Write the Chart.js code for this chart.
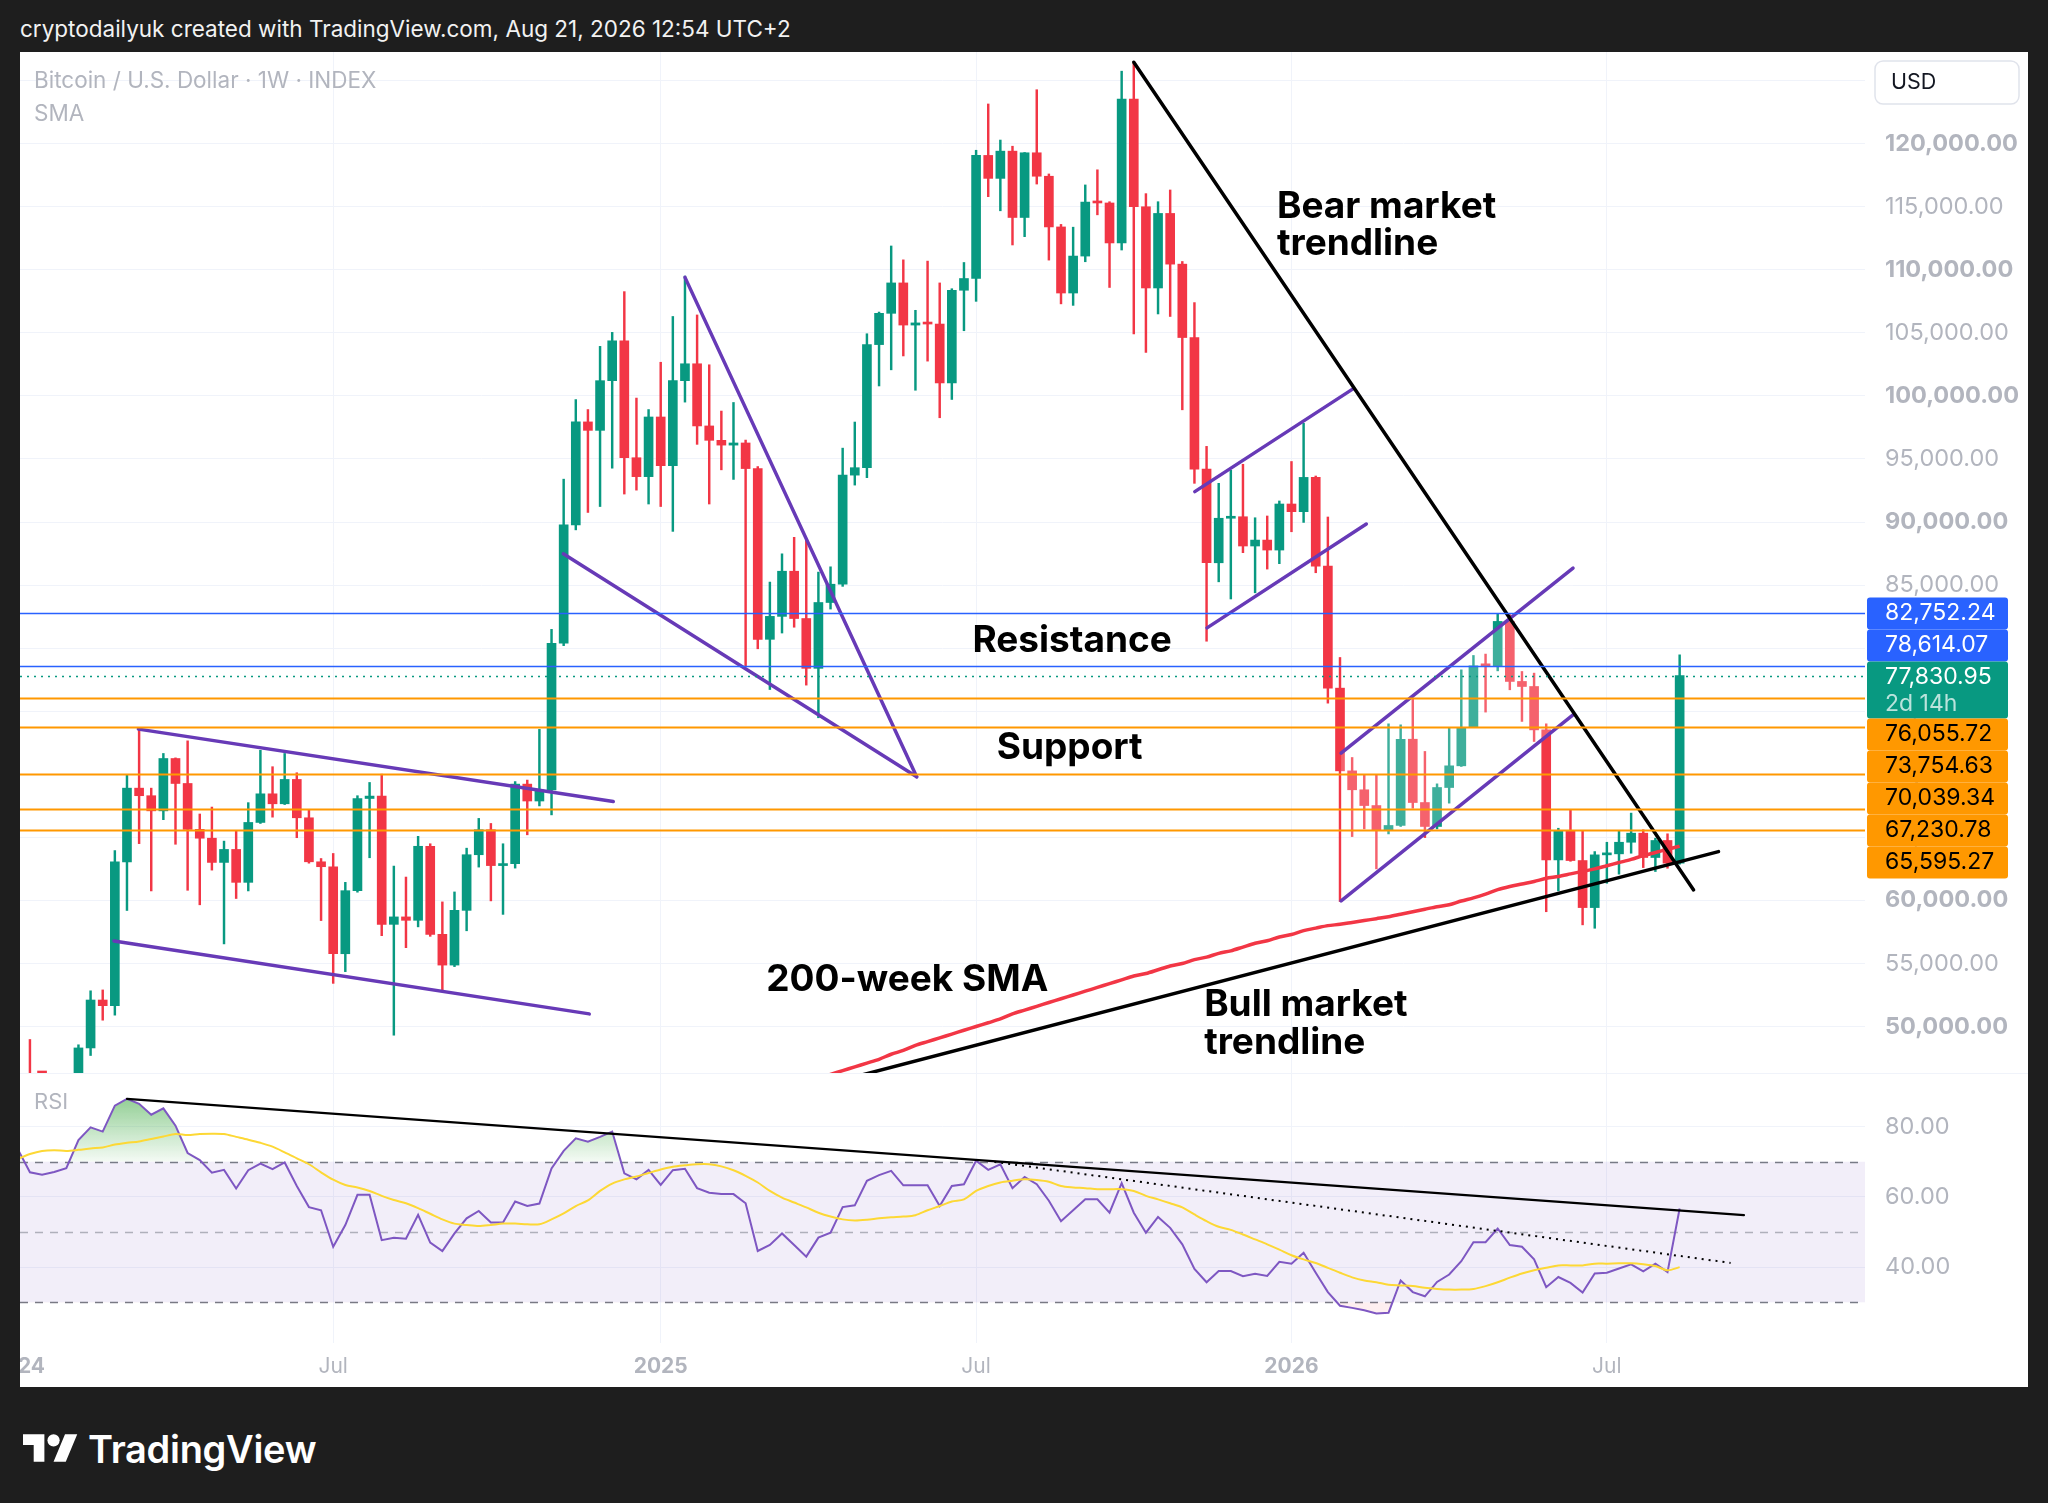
<!DOCTYPE html>
<html>
<head>
<meta charset="utf-8">
<title>BTCUSD 1W</title>
<script src="https://cdn.jsdelivr.net/npm/chart.js@4.4.1/dist/chart.umd.min.js"></script>
<style>
  html, body { margin: 0; padding: 0; width: 2048px; height: 1503px; overflow: hidden; background: #1e1e1e; font-family: Inter, "Noto Sans", sans-serif; }
  #header { position: absolute; left: 20px; top: 12px; height: 34px; line-height: 34px; color: #f2f2f2; font-size: 22.5px; white-space: nowrap; }
  #panel { position: absolute; left: 20px; top: 52px; width: 2008px; height: 1335px; background: #fff; overflow: hidden; }
  #priceWrap { position: absolute; left: 0; top: 0; width: 2008px; height: 1021px; }
  #rsiWrap { position: absolute; left: 0; top: 1021px; width: 2008px; height: 314px; border-top: 1px solid #f0f3fa; box-sizing: border-box; }
  #logo { position: absolute; left: 23px; top: 1426px; display: flex; align-items: center; color: #fff; }
  #logo span { font-size: 38px; font-weight: 600; margin-left: 10px; letter-spacing: -0.3px; }
</style>
</head>
<body>
<div id="header">cryptodailyuk created with TradingView.com, Aug 21, 2026 12:54 UTC+2</div>
<div id="panel">
  <div id="priceWrap"><canvas id="priceCanvas"></canvas></div>
  <div id="rsiWrap"><canvas id="rsiCanvas"></canvas></div>
</div>
<div id="logo">
  <svg width="55" height="43" viewBox="0 0 36 28"><path d="M14 22H7V11H0V4h14v18zM28 22h-8l7.5-18h8L28 22z" fill="#fff"/><circle cx="20" cy="8" r="4" fill="#fff"/></svg>
  <span>TradingView</span>
</div>
<script>
// weekly candles, week 0 = Jan 1 2024
const opens = [42280,43950,41730,41580,42030,42580,48300,52100,51650,63050,68900,68300,67100,71250,69270,65630,64930,63010,64040,61430,
  66180,68450,67660,69590,66550,63060,62670,55770,60770,68080,68270,58100,58690,58420,64290,57310,54870,59210,63620,65600,
  62760,62910,69220,67880,68750,80390,89770,97940,97270,101210,104370,95100,93600,98330,94470,101210,102550,97620,96480,96100,
  96270,94240,80700,82520,86100,82350,78400,83620,85070,93720,94310,104070,106550,108960,105620,105790,105700,101030,108380,109310,
  119070,117250,119410,114150,119280,117420,113400,108160,111090,115370,115300,112130,123540,115000,108560,114470,110450,104630,94200,86770,
  90300,90420,88100,88570,87780,91430,90820,93540,86500,76830,70270,68770,67520,65590,65940,72780,67760,65860,68950,70670,
  73710,78700,78600,82120,77360,76960,73520,63210,65510,63160,59430,63610,63690,64610,65330,63400,64750,62950];
const highs = [45880,48970,43570,42840,43880,48550,52830,52900,63950,69950,73650,68900,71650,71300,72650,66850,67400,64700,65500,67750,
  71900,70600,71650,70120,67160,63320,63720,61430,68300,69350,70010,62720,61850,65080,64490,59880,60670,64140,66500,66100,
  64490,69420,69540,73560,81490,93400,99710,98920,103930,105040,108270,99830,98920,102670,106300,109500,106420,102470,98800,99480,
  96500,94400,85240,87480,88790,88620,86030,86450,95860,97930,104930,106650,111890,110790,106790,110690,108960,108500,110580,119480,
  123150,120290,119800,119300,124280,117600,113600,113380,116730,117930,115400,125750,126460,116040,115400,116330,110660,107400,96000,93070,
  94100,94580,90340,90480,91670,94800,97830,93650,90400,79260,71330,69950,69950,74000,73920,76040,71810,69240,73660,78280,
  79420,79530,82700,82650,78150,78020,74000,65720,67180,65510,63870,64610,65510,66920,65600,64930,65280,79470];
const lows = [40750,41500,40600,38550,41850,42250,47700,50500,50900,59200,64500,60750,66400,64450,60800,59650,62400,56550,60150,60750,
  66100,66600,67600,64970,62950,58400,53420,54350,60650,63380,57200,49310,56250,57900,57150,52780,54750,57590,62640,59960,
  58890,62560,65200,67490,66780,80200,89380,90760,91230,94270,92220,92530,91430,91230,89260,99510,96160,91430,94140,93380,
  78600,79950,76720,81200,81660,77070,74480,83100,84900,92930,93520,100790,102070,103170,100450,102760,98270,99720,105170,107500,
  115800,114680,111970,112630,116800,110770,107300,107180,110640,114360,108600,111570,104920,103450,106500,106300,98900,93070,80550,85260,
  83900,87570,84390,86270,86700,89230,89970,85980,75640,59910,65060,65670,62500,65270,65860,67310,64980,65670,67710,70620,
  73710,74930,78200,76700,74190,72600,59100,60750,63100,58060,57790,61360,62080,63740,62600,62290,62550,62870];
const closes = [43950,41730,41580,42030,42580,48300,52100,51650,63050,68900,68300,67100,71250,69270,65630,64930,63010,64040,61430,66180,
  68450,67660,69590,66550,63060,62670,55770,60770,68080,68270,58100,58690,58420,64290,57310,54870,59210,63620,65600,62760,
  62910,69220,67880,68750,80390,89770,97940,97270,101210,104370,95100,93600,98330,94470,101210,102550,97620,96480,96100,96270,
  94240,80700,82520,86100,82350,78400,83620,85070,93720,94310,104070,106550,108960,105620,105790,105700,101030,108380,109310,119070,
  117250,119410,114150,119280,117420,113400,108160,111090,115370,115300,112130,123540,115000,108560,114470,110450,104630,94200,86770,90300,
  90420,88100,88570,87780,91430,90820,93540,86500,76830,70270,68770,67520,65590,65940,72780,67760,65860,68950,70670,73710,
  78600,78600,82120,77360,76960,73520,63210,65510,63160,59430,63610,63690,64610,65330,63400,64750,62950,77830.95];

// 200-week SMA, first value at week 66
const sma200From = 66;
const sma200 = [45900,46200,46500,46800,47100,47400,47800,48100,48500,48800,49100,49400,49700,50000,50300,50600,51000,51300,51600,51900,
  52200,52500,52800,53100,53400,53700,54000,54200,54500,54800,55000,55300,55500,55800,56000,56300,56600,56800,57100,57300,
  57600,57800,58000,58100,58250,58400,58550,58700,58900,59100,59300,59500,59650,59950,60200,60500,60850,61100,61300,61500,
  61750,61900,62100,62300,62500,62750,63000,63250,63550,63800,64050,64300];

// RSI (14) and its moving average, weekly
const rsi = [73.6,67.0,66.3,67.1,68.2,76.2,79.8,78.6,86.0,87.9,86.5,83.4,85.2,80.3,72.5,70.5,66.9,67.7,62.4,67.6,
  69.5,67.9,69.8,63.1,57.1,56.2,45.8,52.0,60.6,60.6,47.7,48.4,48.1,54.9,47.0,44.6,49.6,53.9,56.0,52.7,
  52.7,58.7,57.4,58.1,68.1,73.1,76.7,75.7,77.1,78.6,66.7,65.0,67.7,63.4,67.6,68.0,62.5,61.2,60.8,60.8,
  58.2,44.6,46.3,49.6,46.3,43.0,48.4,49.8,57.1,57.6,64.6,66.2,67.4,63.3,63.3,63.3,57.4,63.1,63.6,70.3,
  67.7,69.3,62.5,65.7,63.6,58.9,53.1,56.2,59.3,59.3,55.5,63.9,55.5,49.8,54.3,51.2,46.5,39.5,35.7,38.9,
  38.9,37.4,38.1,37.5,41.5,41.0,44.1,38.4,32.9,29.0,28.4,27.7,26.8,27.0,36.2,32.9,31.7,35.8,37.9,41.7,
  47.1,47.1,51.0,46.3,45.8,42.2,34.3,37.2,35.5,32.8,38.2,38.4,39.6,40.8,38.8,41.0,38.6,56.7];
const rsiMa = [70.8,72.2,73.1,73.3,73.1,73.4,73.8,74.1,74.9,75.4,75.8,76.5,77.2,77.9,77.6,77.9,78.0,77.9,77.1,76.3,
  75.4,74.3,72.7,71.0,69.3,67.0,64.9,63.4,62.7,61.7,60.3,59.1,58.2,56.8,55.2,53.6,52.4,52.0,51.7,52.0,
  52.4,52.4,52.2,52.2,53.6,55.3,57.4,59.0,61.7,63.8,65.0,65.8,66.8,67.8,68.6,69.0,69.3,69.3,68.7,67.6,
  66.0,64.1,61.7,59.8,58.4,57.0,55.5,54.4,53.6,53.3,53.5,53.9,54.2,54.4,54.8,56.2,57.4,58.7,59.3,61.7,
  63.1,64.1,64.6,65.0,64.8,64.3,63.1,62.7,62.5,62.2,62.2,62.2,61.7,60.3,59.3,58.2,57.0,55.0,53.1,51.5,
  50.6,49.3,47.9,46.5,45.0,43.4,42.2,41.2,39.8,38.4,37.1,36.2,35.7,35.0,34.8,34.6,34.1,33.8,33.6,33.6,
  33.8,34.6,35.7,37.0,38.2,39.1,39.8,40.5,40.5,40.5,41.0,41.0,41.1,41.1,40.8,40.3,39.1,40.0];

// axis ticks
const xTickWeeks = [0, 26, 53, 79, 105, 131];
const xTickLabels = ['2024', 'Jul', '2025', 'Jul', '2026', 'Jul'];
const priceTicks = [50000,55000,60000,65000,70000,75000,80000,85000,90000,95000,100000,105000,110000,115000,120000,125000];
const rsiTicks = [40, 60, 80];
const rsiLevels = [70, 50, 30];

// horizontal levels shown on the price scale
const levelPrices = [82752.24, 78614.07, 77830.95, 76055.72, 73754.63, 70039.34, 67230.78, 65595.27];
const levelKinds = ['res', 'res', 'last', 'sup', 'sup', 'sup', 'sup', 'sup'];
const countdown = '2d 14h';

// drawings: [week, price]
const bearTrend = [[92, 126460], [138.15, 60830]];
const bullTrend = [[69, 46010], [140.2, 63870]];
const rangeTop = [[9.94, 73580], [49.09, 67840]];
const rangeBottom = [[7.93, 56780], [47.11, 51000]];
const wedgeTop = [[55, 109400], [74.1, 69800]];
const wedgeBottom = [[44.97, 87480], [74.1, 69800]];
const flagTop = [[97.03, 92410], [110.07, 100560]];
const flagBottom = [[98.04, 81610], [111.17, 89840]];
const flag2Top = [[109.09, 71670], [128.21, 86350]];
const flag2Bottom = [[109.09, 59960], [128.21, 74710]];
const rsiTrend = [[9, 87.9], [142.3, 54.8]];
const rsiTrendDotted = [[80.5, 70.0], [141.2, 41.2]];

const notes = [
  { text: 'Bear market', at: [103.8, 115030] },
  { text: 'trendline', at: [103.8, 112030] },
  { text: 'Resistance', at: [78.7, 80570] },
  { text: 'Support', at: [80.7, 72080] },
  { text: '200-week SMA', at: [61.7, 53660] },
  { text: 'Bull market', at: [97.8, 51690] },
  { text: 'trendline', at: [97.8, 48690] }
];

const UP = '#089981';
const DOWN = '#f23645';
const PURPLE = '#673ab7';
const AXIS_TEXT = '#b2b5be';
const GRID = '#f0f3fa';
const xMin = 0.181, xMax = 152.28;
const priceMin = 46313, priceMax = 127271;
const rsiMin = 18.4, rsiMax = 95.0;
const FONT = 'Inter, "Noto Sans", sans-serif';

Chart.defaults.font.family = FONT;
Chart.defaults.animation = false;

const weeks = opens.map((_, i) => i);
const candleColors = weeks.map(i => closes[i] >= opens[i] ? UP : DOWN);
const fmt = v => v.toLocaleString('en-US', { minimumFractionDigits: 2, maximumFractionDigits: 2 });
const toPts = seg => seg.map(([x, y]) => ({ x, y }));

function segment(label, seg, color, extra) {
  return Object.assign({
    type: 'line', label, data: toPts(seg), borderColor: color, borderWidth: 3.5,
    pointRadius: 0, fill: false, tension: 0, order: 1, borderCapStyle: 'round'
  }, extra || {});
}

function xAxis(showLabels) {
  return {
    type: 'linear', min: xMin, max: xMax, offset: false,
    grid: { color: GRID, drawTicks: false, offset: false },
    border: { display: false },
    afterBuildTicks: s => { s.ticks = xTickWeeks.map(v => ({ value: v })); },
    afterFit: s => { s.height = showLabels ? 44 : 0; s.paddingLeft = 0; s.paddingRight = 0; },
    ticks: {
      display: showLabels, autoSkip: false, maxRotation: 0, padding: 11, color: AXIS_TEXT,
      font: ctx => ({ size: 21, weight: ctx.tick && xTickLabels[xTickWeeks.indexOf(ctx.tick.value)] !== 'Jul' ? '700' : '400' }),
      callback: v => xTickLabels[xTickWeeks.indexOf(v)]
    }
  };
}

function yAxis(min, max, ticks, boldStep) {
  return {
    position: 'right', min, max,
    grid: { color: GRID, drawTicks: false },
    border: { display: false },
    afterBuildTicks: s => { s.ticks = ticks.map(v => ({ value: v })); },
    afterFit: s => { s.width = 163; s.paddingTop = 0; s.paddingBottom = 0; },
    ticks: {
      padding: 20, color: AXIS_TEXT,
      font: ctx => ({ size: 23.5, weight: boldStep && ctx.tick && ctx.tick.value % boldStep === 0 ? '700' : '400' }),
      callback: v => fmt(v)
    }
  };
}

const levelColor = { res: '#2962ff', sup: '#ff9800', last: UP };

const priceOverlay = {
  id: 'priceOverlay',
  afterDatasetDraw(chart, args) {
    if (args.meta.label !== 'Bodies') return;
    const { ctx, chartArea: a, scales: { x, y } } = chart;
    ctx.save();
    ctx.beginPath(); ctx.rect(a.left, a.top, a.width, a.height); ctx.clip();
    ctx.beginPath();
    ctx.moveTo(x.getPixelForValue(flag2Top[0][0]), y.getPixelForValue(flag2Top[0][1]));
    ctx.lineTo(x.getPixelForValue(flag2Top[1][0]), y.getPixelForValue(flag2Top[1][1]));
    ctx.lineTo(x.getPixelForValue(flag2Bottom[1][0]), y.getPixelForValue(flag2Bottom[1][1]));
    ctx.lineTo(x.getPixelForValue(flag2Bottom[0][0]), y.getPixelForValue(flag2Bottom[0][1]));
    ctx.closePath();
    ctx.fillStyle = 'rgba(255,255,255,0.22)';
    ctx.fill();
    ctx.restore();
  },
  afterDatasetsDraw(chart) {
    const { ctx, chartArea: a, scales: { y } } = chart;
    ctx.save();
    levelPrices.forEach((p, k) => {
      const py = Math.round(y.getPixelForValue(p)) + 0.5;
      ctx.beginPath();
      if (levelKinds[k] === 'last') { ctx.setLineDash([2, 5]); ctx.lineWidth = 1.6; }
      else { ctx.setLineDash([]); ctx.lineWidth = levelKinds[k] === 'res' ? 1.5 : 2; }
      ctx.strokeStyle = levelColor[levelKinds[k]];
      ctx.moveTo(a.left, py); ctx.lineTo(a.right, py); ctx.stroke();
    });
    ctx.restore();
  },
  afterDraw(chart) {
    const { ctx, chartArea: a, scales: { x, y } } = chart;
    ctx.save();
    // annotations
    ctx.fillStyle = '#000';
    ctx.font = '700 37px ' + FONT;
    ctx.textBaseline = 'middle';
    ctx.textAlign = 'left';
    notes.forEach(n => ctx.fillText(n.text, x.getPixelForValue(n.at[0]), y.getPixelForValue(n.at[1])));
    // legend
    ctx.fillStyle = AXIS_TEXT;
    ctx.font = '400 22.5px ' + FONT;
    ctx.fillText('Bitcoin / U.S. Dollar · 1W · INDEX', 14, 29);
    ctx.fillText('SMA', 14, 62);
    // price scale labels, stacked from the first level
    const boxL = a.right + 2, boxW = 141;
    let top = y.getPixelForValue(levelPrices[0]) - 16;
    ctx.font = '400 23px ' + FONT;
    levelPrices.forEach((p, k) => {
      const kind = levelKinds[k];
      const h = kind === 'last' ? 57 : 32;
      ctx.fillStyle = levelColor[kind];
      ctx.beginPath();
      ctx.roundRect(boxL, top, boxW, h, 3);
      ctx.fill();
      ctx.fillStyle = kind === 'sup' ? '#000' : '#fff';
      ctx.fillText(fmt(p), a.right + 20, top + 16);
      if (kind === 'last') {
        ctx.fillStyle = 'rgba(255,255,255,0.72)';
        ctx.fillText(countdown, a.right + 20, top + 43);
      }
      top += h;
    });
    // currency box
    ctx.fillStyle = '#fff';
    ctx.strokeStyle = '#e0e3eb';
    ctx.lineWidth = 1.5;
    ctx.beginPath();
    ctx.roundRect(a.right + 10, 9, 144, 43, 8);
    ctx.fill(); ctx.stroke();
    ctx.fillStyle = '#131722';
    ctx.font = '400 21.5px ' + FONT;
    ctx.fillText('USD', a.right + 26, 31);
    ctx.restore();
  }
};

const priceChart = new Chart(document.getElementById('priceCanvas'), {
  type: 'bar',
  data: {
    datasets: [
      { label: 'Wicks', data: weeks.map(i => ({ x: i, y: [lows[i], highs[i]] })), backgroundColor: candleColors,
        barThickness: 1.8, grouped: false, borderWidth: 0, order: 10 },
      { label: 'Bodies', data: weeks.map(i => ({ x: i, y: [opens[i], closes[i]] })), backgroundColor: candleColors,
        barThickness: 9, minBarLength: 2, grouped: false, borderWidth: 0, order: 9 },
      { type: 'line', label: 'SMA 200', data: sma200.map((v, k) => ({ x: sma200From + k, y: v })),
        borderColor: '#f23645', borderWidth: 3.5, pointRadius: 0, fill: false, tension: 0.3, order: 5 },
      segment('Bear market trendline', bearTrend, '#000'),
      segment('Bull market trendline', bullTrend, '#000'),
      segment('Range top', rangeTop, PURPLE),
      segment('Range bottom', rangeBottom, PURPLE),
      segment('Wedge top', wedgeTop, PURPLE),
      segment('Wedge bottom', wedgeBottom, PURPLE),
      segment('Flag top', flagTop, PURPLE),
      segment('Flag bottom', flagBottom, PURPLE),
      segment('Flag 2 top', flag2Top, PURPLE),
      segment('Flag 2 bottom', flag2Bottom, PURPLE)
    ]
  },
  options: {
    responsive: true, maintainAspectRatio: false, events: [],
    layout: { padding: 0, autoPadding: false },
    plugins: { legend: { display: false }, tooltip: { enabled: false } },
    scales: { x: xAxis(false), y: yAxis(priceMin, priceMax, priceTicks, 10000) }
  },
  plugins: [priceOverlay]
});

const rsiOverlay = {
  id: 'rsiOverlay',
  beforeDatasetsDraw(chart) {
    const { ctx, chartArea: a, scales: { y } } = chart;
    ctx.save();
    const yTop = y.getPixelForValue(rsiLevels[0]);
    const yBot = y.getPixelForValue(rsiLevels[2]);
    ctx.fillStyle = 'rgba(126,87,194,0.1)';
    ctx.fillRect(a.left, yTop, a.width, yBot - yTop);
    ctx.setLineDash([8, 7]);
    ctx.lineWidth = 1.6;
    rsiLevels.forEach((lv, k) => {
      const py = Math.round(y.getPixelForValue(lv)) + 0.5;
      ctx.strokeStyle = k === 1 ? 'rgba(120,123,134,0.55)' : '#787b86';
      ctx.beginPath(); ctx.moveTo(a.left, py); ctx.lineTo(a.right, py); ctx.stroke();
    });
    ctx.restore();
  },
  afterDraw(chart) {
    const { ctx } = chart;
    ctx.save();
    ctx.fillStyle = AXIS_TEXT;
    ctx.font = '400 22px ' + FONT;
    ctx.textBaseline = 'middle';
    ctx.fillText('RSI', 14, 28);
    ctx.restore();
  }
};

const rsiPts = rsi.map((v, i) => ({ x: i, y: v }));
const rsiChart = new Chart(document.getElementById('rsiCanvas'), {
  type: 'line',
  data: {
    datasets: [
      { label: 'RSI', data: rsiPts, borderColor: '#7e57c2', borderWidth: 2, pointRadius: 0, tension: 0, order: 3,
        fill: { target: { value: 70 }, above: 'rgba(76,175,80,0.35)', below: 'rgba(0,0,0,0)' } },
      { label: 'RSI oversold', data: rsiPts, borderColor: 'rgba(0,0,0,0)', borderWidth: 0, pointRadius: 0, order: 4,
        fill: { target: { value: 30 }, above: 'rgba(0,0,0,0)', below: 'rgba(242,54,69,0.08)' } },
      { label: 'RSI MA', data: rsiMa.map((v, i) => ({ x: i, y: v })), borderColor: '#fdd835', borderWidth: 2,
        pointRadius: 0, tension: 0.3, fill: false, order: 2 },
      segment('RSI trendline', rsiTrend, '#000', { borderWidth: 2.2 }),
      segment('RSI trendline dotted', rsiTrendDotted, '#000', { borderWidth: 2, borderDash: [2, 5], borderCapStyle: 'butt' })
    ]
  },
  options: {
    responsive: true, maintainAspectRatio: false, events: [],
    layout: { padding: 0, autoPadding: false },
    plugins: { legend: { display: false }, tooltip: { enabled: false } },
    scales: { x: xAxis(true), y: yAxis(rsiMin, rsiMax, rsiTicks, 0) }
  },
  plugins: [rsiOverlay]
});

// overbought fill fades towards the 70 line
const ry = rsiChart.scales.y;
const grad = rsiChart.ctx.createLinearGradient(0, ry.getPixelForValue(88), 0, ry.getPixelForValue(70));
grad.addColorStop(0, 'rgba(76,175,80,0.6)');
grad.addColorStop(1, 'rgba(76,175,80,0.06)');
rsiChart.data.datasets[0].fill.above = grad;
rsiChart.update('none');
</script>
</body>
</html>
